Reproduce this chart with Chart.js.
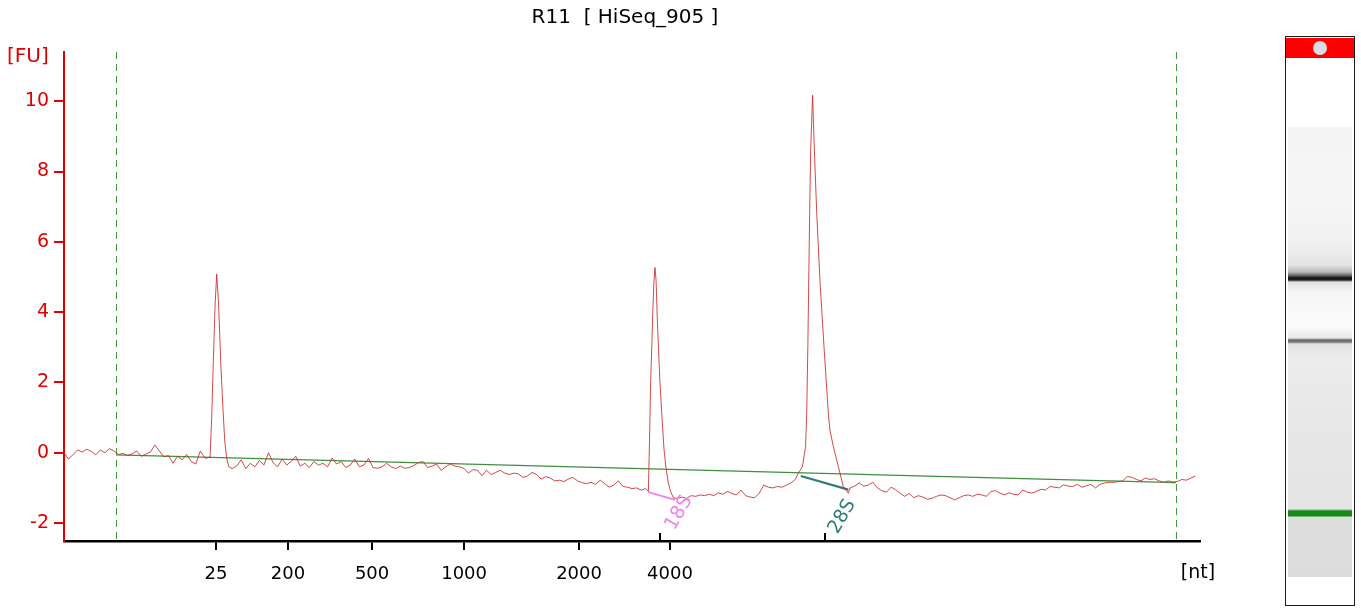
<!DOCTYPE html>
<html>
<head>
<meta charset="utf-8">
<title>R11 [ HiSeq_905 ]</title>
<script src="https://cdn.jsdelivr.net/npm/chart.js@4.4.1/dist/chart.umd.min.js"></script>
<style>
  html, body { margin: 0; padding: 0; background: #fff; }
  body { width: 1361px; height: 609px; position: relative; overflow: hidden; }
  #plotWrap { position: absolute; left: 0; top: 0; width: 1260px; height: 609px; }
  #lane { position: absolute; left: 1285px; top: 36px; width: 68px; height: 568px; border: 1.5px solid #1a1a1a; background: #fff; }
  #lane .cap { position: absolute; left: 0; right: 0; top: 1px; height: 20px; background: #f00; }
  #lane .dot { position: absolute; left: 27px; top: 3px; width: 14px; height: 14px; border-radius: 50%; background: #dcdce8; }
  #lane .gel {
    position: absolute; left: 2px; right: 2px; top: 90px; height: 450px;
    background: linear-gradient(to bottom,
      #f3f3f3 0px, #f6f6f6 60px, #f1f1f1 115px, #e4e4e4 138px, #b8b8b8 145px, #555 149px,
      #0d0d0d 151px, #222 153px, #e0e0e0 155px, #f6f6f6 165px, #fbfbfb 200px, #e8e8e8 211px,
      #666 213px, #777 215px, #e2e2e2 217px, #ececec 230px, #e7e7e7 300px, #e4e4e4 382px,
      #148c14 384px, #148c14 389px, #dedede 390px, #dcdcdc 450px);
  }
</style>
</head>
<body>
<div id="plotWrap"><canvas id="fuChart" width="1260" height="609"></canvas></div>
<div id="lane"><div class="cap"><div class="dot"></div></div><div class="gel"></div></div>
<script>
// Sample R11 electropherogram (time in s, signal in FU).
const chartTitle = 'R11  [ HiSeq_905 ]';
const yTicksFU = [-2, 0, 2, 4, 6, 8, 10];
const ladderTimes = [25.69, 28.86, 32.56, 36.61, 41.67, 45.67];
const ladderLabels = ['25', '200', '500', '1000', '2000', '4000'];

// Background trace on a 0.2 s grid; null where a peak below gives the detail.
const gridStart = 19.0;
const gridStep = 0.2;
const traceFU = [
  0.0, -0.18, -0.05, 0.08, 0.02, 0.1, 0.04, -0.06, 0.08, 0.0,
  0.12, 0.05, -0.05, -0.02, -0.08, -0.03, 0.05, -0.1, -0.04, 0.02,
  0.22, 0.05, -0.12, -0.08, -0.3, -0.1, -0.2, -0.05, -0.25, -0.32,
  0.05, -0.15, null, null, null, null, null, -0.45, -0.38, -0.2,
  -0.45, -0.3, -0.4, -0.22, -0.35, 0.0, -0.28, -0.4, -0.18, -0.35,
  -0.25, -0.1, -0.38, -0.3, -0.42, -0.25, -0.35, -0.3, -0.4, -0.15,
  -0.32, -0.25, -0.42, -0.35, -0.18, -0.4, -0.35, -0.16, -0.42, -0.44,
  -0.4, -0.3, -0.4, -0.45, -0.38, -0.44, -0.42, -0.36, -0.28, -0.25,
  -0.42, -0.38, -0.32, -0.5, -0.4, -0.32, -0.38, -0.4, -0.44, -0.58,
  -0.48, -0.5, -0.65, -0.5, -0.62, -0.56, -0.5, -0.58, -0.62, -0.58,
  -0.6, -0.7, -0.66, -0.56, -0.62, -0.75, -0.68, -0.72, -0.8, -0.78,
  -0.82, -0.75, -0.7, -0.8, -0.85, -0.88, -0.84, -0.9, -0.78, -0.88,
  -0.98, -0.92, -0.8, -0.96, -0.98, -1.02, -1.0, -1.06, null, null,
  null, null, null, null, null, -1.3, -1.26, -1.3, -1.22, -1.24,
  -1.2, -1.22, -1.18, -1.22, -1.14, -1.18, -1.1, -1.16, -1.2, -1.06,
  -1.22, -1.26, -1.28, -1.15, -0.92, -0.98, -1.0, -0.96, -0.98, -0.92,
  -0.86, -0.75, null, null, null, null, null, null, null, null,
  null, null, null, -1.0, -0.95, -0.86, -0.95, -0.92, -0.84, -1.0,
  -1.08, -1.12, -0.98, -1.05, -1.15, -1.24, -1.16, -1.28, -1.22, -1.26,
  -1.32, -1.3, -1.24, -1.2, -1.22, -1.28, -1.34, -1.28, -1.22, -1.2,
  -1.24, -1.18, -1.2, -1.24, -1.1, -1.08, -1.15, -1.2, -1.14, -1.18,
  -1.2, -1.06, -1.12, -1.15, -1.1, -1.04, -1.06, -0.96, -0.98, -1.0,
  -0.91, -0.95, -0.96, -0.9, -0.98, -0.94, -0.9, -1.0, -0.9, -0.86,
  -0.84, -0.84, -0.82, -0.8, -0.67, -0.7, -0.76, -0.8, -0.72, -0.76,
  -0.74, -0.8, -0.84, -0.8, -0.83, -0.82, -0.76, -0.78, -0.72, -0.66
];

// Peaks: marker (25 nt), 18S, 28S
const peak25T = [25.3, 25.43, 25.5, 25.57, 25.65, 25.72, 25.8, 25.9, 26.0, 26.08, 26.16, 26.25];
const peak25FU = [-0.15, -0.12, 1.0, 2.55, 4.2, 5.08, 4.3, 2.55, 1.2, 0.3, -0.15, -0.4];
const peak18ST = [44.6, 44.72, 44.77, 44.82, 44.87, 44.91, 44.96, 45.01, 45.06, 45.11, 45.17, 45.23, 45.32, 45.41, 45.5, 45.6, 45.7, 45.82];
const peak18SFU = [-1.02, -1.1, 0.3, 2.0, 3.0, 3.88, 4.8, 5.27, 4.9, 3.88, 2.9, 2.0, 1.0, 0.09, -0.45, -0.86, -1.1, -1.28];
const peak28ST = [51.3, 51.5, 51.64, 51.69, 51.74, 51.78, 51.82, 51.87, 51.95, 52.02, 52.13, 52.27, 52.45, 52.64, 52.71, 52.86, 53.08, 53.3, 53.52];
const peak28SFU = [-0.6, -0.4, 0.18, 1.13, 3.03, 4.93, 6.83, 8.73, 10.17, 8.73, 6.83, 4.93, 3.03, 1.13, 0.65, 0.18, -0.39, -0.96, -1.15];

// Baseline and alignment markers
const baselineT = [21.29, 67.94];
const baselineFU = [-0.06, -0.85];
const alignT = [21.29, 67.94];

// Fragment windows
const fragNames = ['18S', '28S'];
const fragStartT = [44.72, 51.43];
const fragEndT = [45.89, 53.52];
const fragStartFU = [-1.12, -0.66];
const fragEndFU = [-1.34, -1.05];
const peakTickT = [45.23, 52.49];

const FONT = "'DejaVu Sans', Verdana, sans-serif";
const fragColors = ['#ee82ee', '#2f7b7b'];
const fragLabelOffsets = [[4, 13], [-6, 27]];

const tracePoints = [];
traceFU.forEach((v, i) => {
  if (v !== null) tracePoints.push({ x: gridStart + i * gridStep, y: v });
});
[[peak25T, peak25FU], [peak18ST, peak18SFU], [peak28ST, peak28SFU]].forEach(([ts, vs]) => {
  ts.forEach((t, k) => tracePoints.push({ x: t, y: vs[k] }));
});
tracePoints.sort((a, b) => a.x - b.x);

const toPoints = (ts, vs) => ts.map((t, k) => ({ x: t, y: vs[k] }));
const fragLine = (i) => toPoints([fragStartT[i], fragEndT[i]], [fragStartFU[i], fragEndFU[i]]);

const lineSet = (data, color, width) => ({
  data,
  borderColor: color,
  borderWidth: width,
  showLine: true,
  pointRadius: 0,
  tension: 0,
  fill: false
});

const alignLines = {
  id: 'alignLines',
  beforeDatasetsDraw(chart) {
    const { ctx, chartArea, scales } = chart;
    ctx.save();
    ctx.strokeStyle = '#3f9a3f';
    ctx.lineWidth = 1;
    ctx.setLineDash([7, 5]);
    alignT.forEach((t) => {
      const px = Math.round(scales.x.getPixelForValue(t)) + 0.5;
      ctx.beginPath();
      ctx.moveTo(px, chartArea.top);
      ctx.lineTo(px, chartArea.bottom);
      ctx.stroke();
    });
    ctx.restore();
  }
};

const extras = {
  id: 'extras',
  afterDraw(chart) {
    const { ctx, chartArea, scales } = chart;
    ctx.save();

    // peak ticks above the x axis
    ctx.strokeStyle = '#000';
    ctx.lineWidth = 2;
    peakTickT.forEach((t) => {
      const px = Math.round(scales.x.getPixelForValue(t));
      ctx.beginPath();
      ctx.moveTo(px, chartArea.bottom - 8);
      ctx.lineTo(px, chartArea.bottom);
      ctx.stroke();
    });

    // rotated fragment names
    ctx.font = '19px ' + FONT;
    ctx.textAlign = 'center';
    ctx.textBaseline = 'middle';
    fragNames.forEach((name, i) => {
      const px = scales.x.getPixelForValue(fragEndT[i]) + fragLabelOffsets[i][0];
      const py = scales.y.getPixelForValue(fragEndFU[i]) + fragLabelOffsets[i][1];
      ctx.save();
      ctx.translate(px, py);
      ctx.rotate(-60 * Math.PI / 180);
      ctx.fillStyle = fragColors[i];
      ctx.fillText(name, 0, 0);
      ctx.restore();
    });

    // title and axis units
    ctx.fillStyle = '#000';
    ctx.font = '20px ' + FONT;
    ctx.textAlign = 'center';
    ctx.fillText(chartTitle, (chartArea.left + chartArea.right) / 2 - 7, 18);
    ctx.font = '19px ' + FONT;
    ctx.fillText('[nt]', chartArea.right - 2, 573);
    ctx.fillStyle = '#e00000';
    ctx.textAlign = 'left';
    ctx.font = '20px ' + FONT;
    ctx.fillText('[FU]', 7, 57);
    ctx.restore();
  }
};

new Chart(document.getElementById('fuChart'), {
  type: 'scatter',
  data: {
    datasets: [
      lineSet(tracePoints, 'rgba(205, 40, 40, 0.85)', 1),
      lineSet(toPoints(baselineT, baselineFU), '#3f8f3f', 1.2),
      lineSet(fragLine(0), fragColors[0], 2),
      lineSet(fragLine(1), fragColors[1], 2.2)
    ]
  },
  options: {
    responsive: false,
    animation: false,
    layout: { padding: { top: 52, right: 60, left: 0, bottom: 0 } },
    plugins: { legend: { display: false }, tooltip: { enabled: false } },
    scales: {
      x: {
        type: 'linear',
        min: 19,
        max: 69,
        afterBuildTicks: (scale) => { scale.ticks = ladderTimes.map((v) => ({ value: v })); },
        afterFit: (scale) => { scale.height = 68; },
        ticks: {
          callback: (value, index) => ladderLabels[index],
          color: '#000',
          font: { family: FONT, size: 18 },
          padding: 14,
          maxRotation: 0,
          autoSkip: false
        },
        grid: { drawOnChartArea: false, drawTicks: true, tickLength: 9, color: '#000', lineWidth: 2 },
        border: { color: '#000', width: 2.5 }
      },
      y: {
        min: -2.51,
        max: 11.4,
        afterBuildTicks: (scale) => { scale.ticks = yTicksFU.map((v) => ({ value: v })); },
        afterFit: (scale) => { scale.width = 64; },
        ticks: {
          color: '#e00000',
          font: { family: FONT, size: 19 },
          padding: 5
        },
        grid: { drawOnChartArea: false, drawTicks: true, tickLength: 10, color: '#e00000', lineWidth: 2 },
        border: { color: '#e00000', width: 2 }
      }
    }
  },
  plugins: [alignLines, extras]
});
</script>
</body>
</html>
